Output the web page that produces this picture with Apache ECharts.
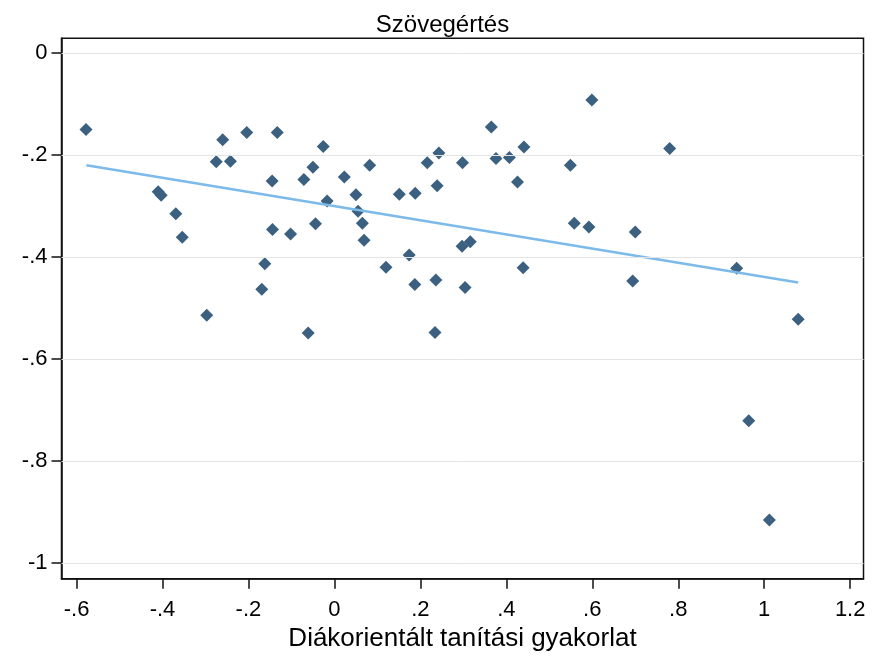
<!DOCTYPE html>
<html>
<head>
<meta charset="utf-8">
<title>Szövegértés</title>
<script src="https://cdn.jsdelivr.net/npm/echarts@6/dist/echarts.min.js"></script>
<style>
  body { margin: 0; background: #fff; }
  #chart { width: 885px; height: 658px; }
</style>
</head>
<body>
<div id="chart"></div>
<script>
// pontok: diákorientált tanítási gyakorlat (x) es szövegértés (y)
const xVals = [
  -0.578, -0.260, -0.204, -0.133, -0.275, -0.242, -0.026, -0.145, -0.071, -0.050,
  -0.410, -0.403, -0.369, -0.354, -0.144, -0.102, -0.044, -0.017, -0.162, -0.169,
  -0.297, -0.061,
  0.023, 0.082, 0.050, 0.055, 0.065, 0.069, 0.151, 0.188, 0.216, 0.243,
  0.239, 0.298, 0.365, 0.376, 0.407, 0.441, 0.426, 0.599, 0.549, 0.558,
  0.592, 0.120, 0.174, 0.187, 0.236, 0.297, 0.316, 0.304, 0.439, 0.234,
  0.780, 0.700, 0.694, 0.936, 1.079, 0.964, 1.012
]
const yVals = [
  -0.150, -0.170, -0.156, -0.156, -0.213, -0.212, -0.183, -0.251, -0.248, -0.224,
  -0.272, -0.279, -0.315, -0.361, -0.346, -0.355, -0.335, -0.290, -0.413, -0.463,
  -0.514, -0.549,
  -0.243, -0.220, -0.278, -0.310, -0.334, -0.367, -0.277, -0.275, -0.215, -0.196,
  -0.260, -0.215, -0.145, -0.207, -0.205, -0.184, -0.253, -0.092, -0.220, -0.334,
  -0.341, -0.420, -0.396, -0.454, -0.445, -0.379, -0.370, -0.460, -0.421, -0.548,
  -0.187, -0.351, -0.447, -0.422, -0.522, -0.721, -0.916
]
// illesztett egyenes vegpontjai
const fitX = [-0.577, 1.079]
const fitY = [-0.220, -0.450]
// tengelyfeliratok
const xTicks = [-0.6, -0.4, -0.2, 0, 0.2, 0.4, 0.6, 0.8, 1, 1.2]
const yTicks = [0, -0.2, -0.4, -0.6, -0.8, -1]

const fmt = v => {
  let s = String(Math.round(v * 10) / 10)
  return s.replace('0.', '.')
}

const points = xVals.map((x, i) => [x, yVals[i]])
const fitLine = fitX.map((x, i) => [x, fitY[i]])

const chart = echarts.init(document.getElementById('chart'), null, { renderer: 'canvas' })
chart.setOption({
  animation: false,
  backgroundColor: '#fff',
  textStyle: { fontFamily: 'Liberation Sans, Arial, sans-serif' },
  title: {
    text: 'Szövegértés',
    left: 'center',
    top: 8,
    textStyle: { fontSize: 24, fontWeight: 'normal', color: '#000', fontFamily: 'Liberation Sans' }
  },
  grid: {
    left: 61.5,
    right: 21.5,
    top: 38.3,
    bottom: 79.3,
    show: true,
    borderColor: '#111',
    borderWidth: 1.5,
    backgroundColor: '#fff'
  },
  xAxis: {
    type: 'value',
    min: -0.635,
    max: 1.231,
    name: 'Diákorientált tanítási gyakorlat',
    nameLocation: 'middle',
    nameGap: 46,
    nameTextStyle: { fontSize: 26, color: '#000', fontFamily: 'Liberation Sans' },
    axisLine: { show: true, onZero: false, lineStyle: { color: '#111', width: 1.5 } },
    axisTick: { show: true, length: 10, customValues: xTicks, lineStyle: { color: '#111', width: 1.5 } },
    axisLabel: { customValues: xTicks, formatter: fmt, margin: 20, fontSize: 22, color: '#000', fontFamily: 'Liberation Sans' },
    splitLine: { show: false }
  },
  yAxis: {
    type: 'value',
    min: -1.031,
    max: 0.029,
    axisLine: { show: true, onZero: false, lineStyle: { color: '#111', width: 1.5 } },
    axisTick: { show: true, length: 10, customValues: yTicks, lineStyle: { color: '#111', width: 1.5 } },
    axisLabel: { customValues: yTicks, formatter: fmt, margin: 14, fontSize: 22, color: '#000', fontFamily: 'Liberation Sans' },
    splitLine: { show: false }
  },
  series: [
    {
      // racsvonalak
      type: 'line',
      data: [],
      silent: true,
      z: 1,
      markLine: {
        silent: true,
        symbol: ['none', 'none'],
        label: { show: false },
        lineStyle: { color: '#e4e4e4', type: 'solid', width: 1 },
        data: yTicks.map(v => ({ yAxis: v }))
      }
    },
    {
      type: 'scatter',
      symbol: 'diamond',
      symbolSize: 13,
      z: 3,
      itemStyle: { color: '#3b6080', opacity: 1 },
      data: points
    },
    {
      type: 'line',
      symbol: 'none',
      z: 4,
      lineStyle: { color: '#7bbae9', width: 2.5 },
      data: fitLine
    }
  ]
})
</script>
</body>
</html>
